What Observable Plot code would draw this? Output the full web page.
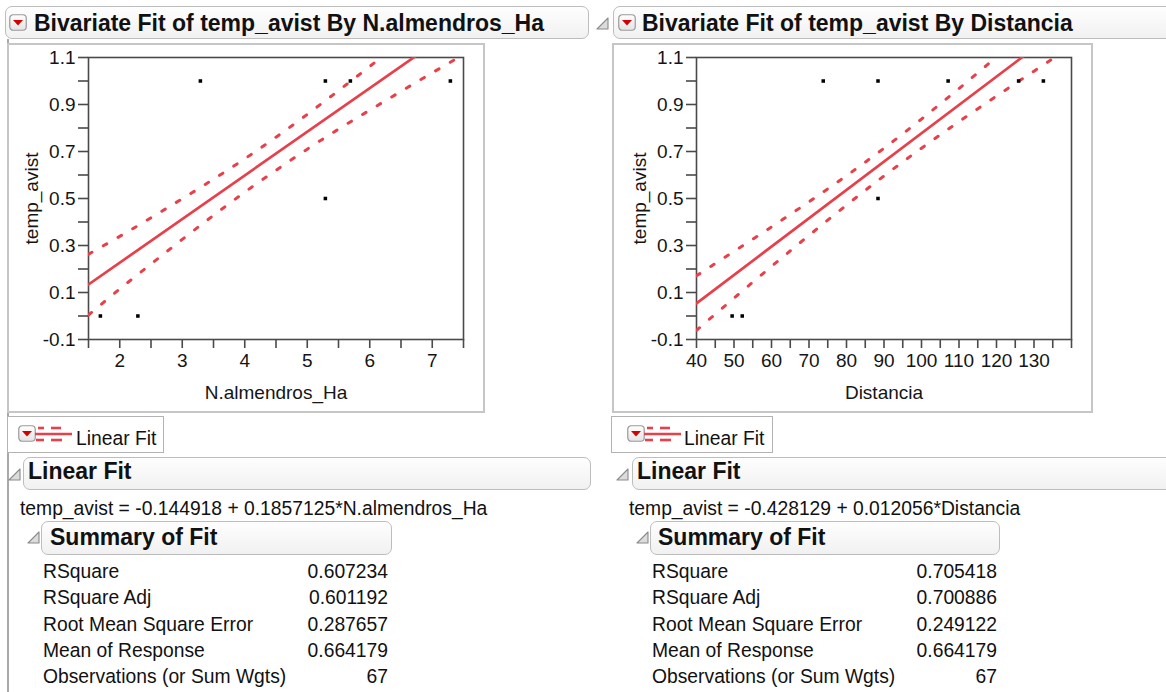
<!DOCTYPE html>
<html><head><meta charset="utf-8">
<script src="https://cdn.jsdelivr.net/npm/d3@7"></script>
<script src="https://cdn.jsdelivr.net/npm/@observablehq/plot@0.6"></script>
<style>
html,body{margin:0;padding:0;background:#fff}
#page{position:relative;width:1166px;height:692px;overflow:hidden;font-family:"Liberation Sans",Arial,sans-serif;color:#111}
.abs{position:absolute;white-space:nowrap}
.hdr{position:absolute;box-sizing:border-box;border:1.5px solid #bdbdbd;border-radius:7px;background:linear-gradient(#fefefe,#f1f1f1)}
.reg{font-size:19.3px;line-height:22px}
.bold{font-weight:bold;font-size:23px;line-height:26px}
.frame{position:absolute;box-sizing:border-box;border:2px solid #c6c6c6}
.legend{position:absolute;box-sizing:border-box;border:1.5px solid #b3b3b3;background:#fff}
</style>
</head><body><div id="page"></div>
<script>
// ---------- data ----------
const leftTitle = "Bivariate Fit of temp_avist By N.almendros_Ha";
const rightTitle = "Bivariate Fit of temp_avist By Distancia";
const yName = "temp_avist";
const xNameL = "N.almendros_Ha";
const xNameR = "Distancia";
const legendText = "Linear Fit";
const fitHeader = "Linear Fit";
const summaryHeader = "Summary of Fit";
const equationL = "temp_avist = -0.144918 + 0.1857125*N.almendros_Ha";
const equationR = "temp_avist = -0.428129 + 0.012056*Distancia";
const summaryLabels = ["RSquare", "RSquare Adj", "Root Mean Square Error", "Mean of Response", "Observations (or Sum Wgts)"];
const summaryValuesL = ["0.607234", "0.601192", "0.287657", "0.664179", "67"];
const summaryValuesR = ["0.705418", "0.700886", "0.249122", "0.664179", "67"];

const yTicks = [-0.1, 0, 0.1, 0.2, 0.3, 0.4, 0.5, 0.6, 0.7, 0.8, 0.9, 1.0, 1.1];
const yTickLabels = [-0.1, 0.1, 0.3, 0.5, 0.7, 0.9, 1.1];

const xTicksL = [1.5, 2, 2.5, 3, 3.5, 4, 4.5, 5, 5.5, 6, 6.5, 7, 7.5];
const xTickLabelsL = [2, 3, 4, 5, 6, 7];
const xTicksR = [40, 45, 50, 55, 60, 65, 70, 75, 80, 85, 90, 95, 100, 105, 110, 115, 120, 125, 130, 135, 140];
const xTickLabelsR = [40, 50, 60, 70, 80, 90, 100, 110, 120, 130];

const pointsLx = [1.69, 2.29, 3.29, 5.29, 5.69, 7.29, 5.29];
const pointsLy = [0, 0, 1, 1, 1, 1, 0.5];
const pointsRx = [49.5, 52.2, 73.8, 88.4, 107.1, 125.9, 132.5, 88.4];
const pointsRy = [0, 0, 1, 1, 1, 1, 1, 0.5];

const fitLx = [1.5, 7.5];
const fitLy = [0.134, 1.248];
const fitRx = [40, 140];
const fitRy = [0.054, 1.260];

const bandLx = [1.5, 2, 2.5, 3, 3.5, 4, 4.5, 5, 5.5, 6, 6.5, 7, 7.5];
const bandLupper = [0.263, 0.339, 0.418, 0.499, 0.582, 0.669, 0.761, 0.858, 0.959, 1.062, 1.168, 1.275, 1.384];
const bandLlower = [0.004, 0.115, 0.221, 0.326, 0.428, 0.527, 0.620, 0.710, 0.795, 0.876, 0.956, 1.035, 1.112];
const bandRx = [40, 50, 60, 70, 80, 90, 100, 110, 120, 130, 140];
const bandRupper = [0.171, 0.275, 0.379, 0.486, 0.597, 0.714, 0.838, 0.968, 1.102, 1.237, 1.373];
const bandRlower = [-0.061, 0.076, 0.211, 0.343, 0.472, 0.596, 0.714, 0.827, 0.936, 1.042, 1.147];

// ---------- styling ----------
const RED = "#e8404b";
const AX = "#4a4a4a";
const FONT = '"Liberation Sans", Arial, sans-serif';
const page = document.getElementById("page");

function el(tag, cls, styles, html) {
  const e = document.createElement(tag);
  if (cls) e.className = cls;
  Object.assign(e.style, styles || {});
  if (html !== undefined) e.innerHTML = html;
  page.appendChild(e);
  return e;
}
function redIcon(x, y) {
  el("div", "abs", {left: x + "px", top: y + "px"},
    `<svg width="18" height="17" viewBox="0 0 18 17"><defs><linearGradient id="g${x}${y}" x1="0" y1="0" x2="0" y2="1"><stop offset="0" stop-color="#ffffff"/><stop offset="1" stop-color="#e3e3e3"/></linearGradient></defs><rect x="0.75" y="0.75" width="16.5" height="15.5" rx="3.5" fill="url(#g${x}${y})" stroke="#9a9a9a" stroke-width="1.2"/><polygon points="4,6 14,6 9,11.5" fill="#d40000"/></svg>`);
}
function disclosure(x, y) {
  el("div", "abs", {left: x + "px", top: y + "px"},
    `<svg width="13" height="13" viewBox="0 0 13 13"><polygon points="12,1 12,12 1,12" fill="#dcdcdc" stroke="#8a8a8a" stroke-width="1.1" stroke-linejoin="round"/></svg>`);
}
function lineGlyph(x, y) {
  el("div", "abs", {left: x + "px", top: y + "px"},
    `<svg width="38" height="18" viewBox="0 0 38 18"><g stroke="${RED}" stroke-width="2.6"><line x1="3" y1="3" x2="9" y2="3"/><line x1="16" y1="3" x2="26" y2="3"/><line x1="0" y1="9" x2="37" y2="9"/><line x1="1" y1="15" x2="9" y2="15"/><line x1="16" y1="15" x2="27" y2="15"/></g></svg>`);
}
function text(x, cy, str, cls, extra) {
  const lh = cls === "bold" ? 26 : 22;
  return el("div", "abs " + cls, Object.assign({left: x + "px", top: (cy - lh / 2) + "px"}, extra || {}), str);
}
function rightText(xRight, cy, str) {
  return el("div", "abs reg", {right: (1166 - xRight) + "px", top: (cy - 11) + "px", textAlign: "right"}, str);
}

function bivariate(o) {
  const svg = Plot.plot({
    width: o.width, height: 369,
    marginLeft: o.marginLeft, marginRight: 21, marginTop: 14, marginBottom: 73,
    x: {domain: o.xDomain},
    y: {domain: [-0.1, 1.1]},
    style: {fontFamily: FONT, fontSize: "19px", background: "transparent", color: "#151515", overflow: "visible"},
    marks: [
      Plot.axisY({ticks: yTicks, tickSize: 10, tickPadding: 3, label: null, stroke: AX, strokeWidth: 1.6,
        tickFormat: d => yTickLabels.includes(d) ? d.toFixed(1) : ""}),
      Plot.axisX({ticks: o.xTicks, tickSize: 9, tickPadding: 5, label: null, stroke: AX, strokeWidth: 1.6,
        tickFormat: d => o.xTickLabels.includes(d) ? String(d) : ""}),
      Plot.frame({stroke: AX, strokeWidth: 1.6}),
      Plot.line(o.bandX, {x: o.bandX, y: o.bandU, stroke: RED, strokeWidth: 3, strokeDasharray: "4,13", strokeLinecap: "round", curve: "natural", clip: true}),
      Plot.line(o.bandX, {x: o.bandX, y: o.bandL, stroke: RED, strokeWidth: 3, strokeDasharray: "4,13", strokeLinecap: "round", curve: "natural", clip: true}),
      Plot.line(o.fitX, {x: o.fitX, y: o.fitY, stroke: RED, strokeWidth: 2.7, clip: true}),
      Plot.dot(o.px, {x: o.px, y: o.py, symbol: "square", r: 2, fill: "#000"}),
      Plot.text([yName], {text: d => d, frameAnchor: "left", dx: -57, rotate: -90, textAnchor: "middle", lineAnchor: "middle", fontSize: 19, fill: "#151515"}),
      Plot.text([o.xName], {text: d => d, frameAnchor: "bottom", dy: 53, textAnchor: "middle", lineAnchor: "middle", fontSize: 19, fill: "#151515"})
    ]
  });
  svg.style.position = "absolute";
  svg.style.left = o.left + "px";
  svg.style.top = "43px";
  page.appendChild(svg);
}

// ---------- layout ----------
// left panel
el("div", "abs", {left: "7px", top: "39px", width: "2px", height: "653px", background: "#a9a9a9"});
el("div", "hdr", {left: "5px", top: "6px", width: "584px", height: "33px"});
redIcon(9, 14);
text(34, 23, leftTitle, "bold");
el("div", "frame", {left: "7px", top: "43px", width: "478px", height: "370px"});
bivariate({left: 7, width: 477, marginLeft: 81, xDomain: [1.5, 7.5], xTicks: xTicksL, xTickLabels: xTickLabelsL,
  px: pointsLx, py: pointsLy, fitX: fitLx, fitY: fitLy, bandX: bandLx, bandU: bandLupper, bandL: bandLlower, xName: xNameL});
el("div", "legend", {left: "7px", top: "416px", width: "157px", height: "37px"});
redIcon(18, 425);
lineGlyph(35, 425);
text(76, 439, legendText, "reg");
disclosure(8, 467);
el("div", "hdr", {left: "23px", top: "457px", width: "568px", height: "33px"});
text(28, 471, fitHeader, "bold");
text(20, 509, equationL, "reg");
disclosure(27, 530);
el("div", "hdr", {left: "41px", top: "521px", width: "351px", height: "34px"});
text(50, 537, summaryHeader, "bold");

// right panel
disclosure(596, 16);
el("div", "hdr", {left: "613px", top: "6px", width: "570px", height: "33px"});
redIcon(618, 14);
text(642, 23, rightTitle, "bold");
el("div", "frame", {left: "612px", top: "43px", width: "481px", height: "370px"});
bivariate({left: 612, width: 480, marginLeft: 84, xDomain: [40, 140], xTicks: xTicksR, xTickLabels: xTickLabelsR,
  px: pointsRx, py: pointsRy, fitX: fitRx, fitY: fitRy, bandX: bandRx, bandU: bandRupper, bandL: bandRlower, xName: xNameR});
el("div", "legend", {left: "611px", top: "416px", width: "162px", height: "37px"});
redIcon(627, 425);
lineGlyph(644, 425);
text(684, 439, legendText, "reg");
disclosure(616, 467);
el("div", "hdr", {left: "632px", top: "457px", width: "560px", height: "33px"});
text(637, 471, fitHeader, "bold");
text(629, 509, equationR, "reg");
disclosure(636, 530);
el("div", "hdr", {left: "650px", top: "521px", width: "350px", height: "34px"});
text(658, 537, summaryHeader, "bold");

const rowY = [572, 598, 625, 651, 677];
summaryLabels.forEach((lab, i) => {
  text(43, rowY[i], lab, "reg");
  rightText(388, rowY[i], summaryValuesL[i]);
  text(652, rowY[i], lab, "reg");
  rightText(997, rowY[i], summaryValuesR[i]);
});
</script>
</body></html>
